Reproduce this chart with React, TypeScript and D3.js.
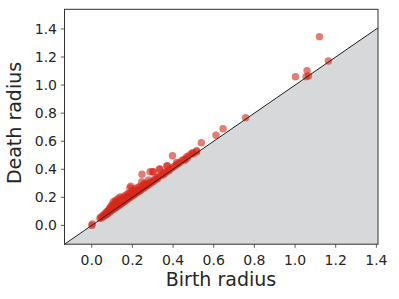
import * as d3 from 'd3';

// persistence pairs (birth, death)
const birth = [
  0.0, 0.003, 0.04, 0.045, 0.05, 0.055, 0.06, 0.062, 0.066, 0.07, 0.072, 0.075, 0.078, 0.08, 0.083, 0.085,
  0.088, 0.09, 0.092, 0.095, 0.097, 0.1, 0.1, 0.103, 0.105, 0.106, 0.11, 0.11, 0.113, 0.115, 0.118, 0.12,
  0.12, 0.123, 0.125, 0.128, 0.13, 0.13, 0.133, 0.135, 0.138, 0.139, 0.14, 0.143, 0.145, 0.148, 0.15, 0.15,
  0.153, 0.155, 0.158, 0.16, 0.162, 0.165, 0.168, 0.17, 0.172, 0.175, 0.178, 0.18, 0.182, 0.185, 0.188, 0.19,
  0.192, 0.195, 0.198, 0.2, 0.203, 0.205, 0.208, 0.21, 0.213, 0.215, 0.218, 0.22, 0.225, 0.228, 0.23, 0.235,
  0.238, 0.24, 0.245, 0.246, 0.247, 0.25, 0.255, 0.258, 0.262, 0.265, 0.27, 0.275, 0.279, 0.28, 0.285, 0.287,
  0.29, 0.295, 0.3, 0.303, 0.305, 0.31, 0.315, 0.32, 0.325, 0.333, 0.336, 0.33, 0.34, 0.35, 0.355, 0.36,
  0.369, 0.372, 0.37, 0.38, 0.385, 0.397, 0.395, 0.405, 0.418, 0.415, 0.425, 0.435, 0.445, 0.455, 0.459, 0.467,
  0.47, 0.48, 0.492, 0.497, 0.5, 0.516, 0.516, 0.539, 0.611, 0.646, 0.757, 1.002, 1.054, 1.059, 1.066, 1.12,
  1.164,
];
const death = [
  0.0, 0.01, 0.05, 0.06, 0.055, 0.07, 0.065, 0.08, 0.072, 0.09, 0.078, 0.1, 0.085, 0.095, 0.11, 0.09,
  0.12, 0.1, 0.13, 0.105, 0.14, 0.11, 0.125, 0.15, 0.115, 0.168, 0.12, 0.135, 0.16, 0.125, 0.18, 0.13,
  0.15, 0.17, 0.135, 0.16, 0.14, 0.19, 0.155, 0.145, 0.175, 0.203, 0.15, 0.165, 0.155, 0.185, 0.16, 0.2,
  0.175, 0.165, 0.19, 0.17, 0.21, 0.18, 0.2, 0.18, 0.22, 0.19, 0.21, 0.19, 0.23, 0.2, 0.267, 0.2,
  0.28, 0.24, 0.21, 0.225, 0.25, 0.215, 0.235, 0.22, 0.26, 0.23, 0.245, 0.23, 0.27, 0.24, 0.255, 0.245,
  0.28, 0.25, 0.265, 0.311, 0.364, 0.26, 0.29, 0.27, 0.3, 0.275, 0.29, 0.285, 0.323, 0.3, 0.295, 0.382,
  0.31, 0.305, 0.382, 0.382, 0.315, 0.33, 0.325, 0.34, 0.335, 0.402, 0.4, 0.35, 0.355, 0.36, 0.375, 0.37,
  0.423, 0.425, 0.385, 0.39, 0.4, 0.496, 0.41, 0.42, 0.449, 0.43, 0.44, 0.45, 0.465, 0.47, 0.466, 0.489,
  0.48, 0.5, 0.513, 0.518, 0.51, 0.525, 0.532, 0.589, 0.642, 0.689, 0.768, 1.06, 1.06, 1.103, 1.065, 1.345,
  1.172,
];
const ticks = [0, 0.2, 0.4, 0.6, 0.8, 1.0, 1.2, 1.4];

const W = 399;
const H = 299;
const lo = -0.134;
const xHi = 1.408;
const yHi = 1.54;
const ink = '#262626';

const App = () => {
  const x = d3.scaleLinear().domain([lo, xHi]).range([64.5, 378]);
  const y = d3.scaleLinear().domain([lo, yHi]).range([244.2, 9.3]);
  const fmt = d3.format('.1f');

  const shade = d3.line<[number, number]>()
    .x((d) => x(d[0]))
    .y((d) => y(d[1]))([[lo, lo], [xHi, xHi], [xHi, lo]]);
  const diag = d3.line<[number, number]>()
    .x((d) => x(d[0]))
    .y((d) => y(d[1]))([[lo, lo], [xHi, xHi]]);

  const pts = birth.map((b, i) => [b, death[i]]);

  return (
    <svg width={W} height={H} style={{ position: 'absolute', left: 0, top: 0 }} fontFamily="DejaVu Sans">
      <rect width={W} height={H} fill="#fff" />
      <path d={shade + 'Z'} fill="#d7d8da" />
      <g>
        {pts.map((p, i) => (
          <circle key={i} cx={x(p[0])} cy={y(p[1])} r={3.7} fill="#d8281a" fillOpacity={0.62} />
        ))}
      </g>
      <path d={diag || ''} stroke="#222" strokeWidth={1} fill="none" />
      <rect x={64.5} y={9.3} width={378 - 64.5} height={244.2 - 9.3} fill="none" stroke="#333" strokeWidth={1} />

      {ticks.map((t) => (
        <g key={'x' + t}>
          <line x1={x(t)} x2={x(t)} y1={244.2} y2={247.8} stroke="#333" strokeWidth={0.8} />
          <text x={x(t)} y={265} textAnchor="middle" fontSize={14} fill={ink}>{fmt(t)}</text>
        </g>
      ))}
      {ticks.map((t) => (
        <g key={'y' + t}>
          <line x1={60.9} x2={64.5} y1={y(t)} y2={y(t)} stroke="#333" strokeWidth={0.8} />
          <text x={57} y={y(t) + 5} textAnchor="end" fontSize={14} fill={ink}>{fmt(t)}</text>
        </g>
      ))}

      <text x={221} y={286} textAnchor="middle" fontSize={19} fill={ink}>Birth radius</text>
      <text transform="translate(21,123) rotate(-90)" textAnchor="middle" fontSize={19} fill={ink}>Death radius</text>
    </svg>
  );
};

export default App;
